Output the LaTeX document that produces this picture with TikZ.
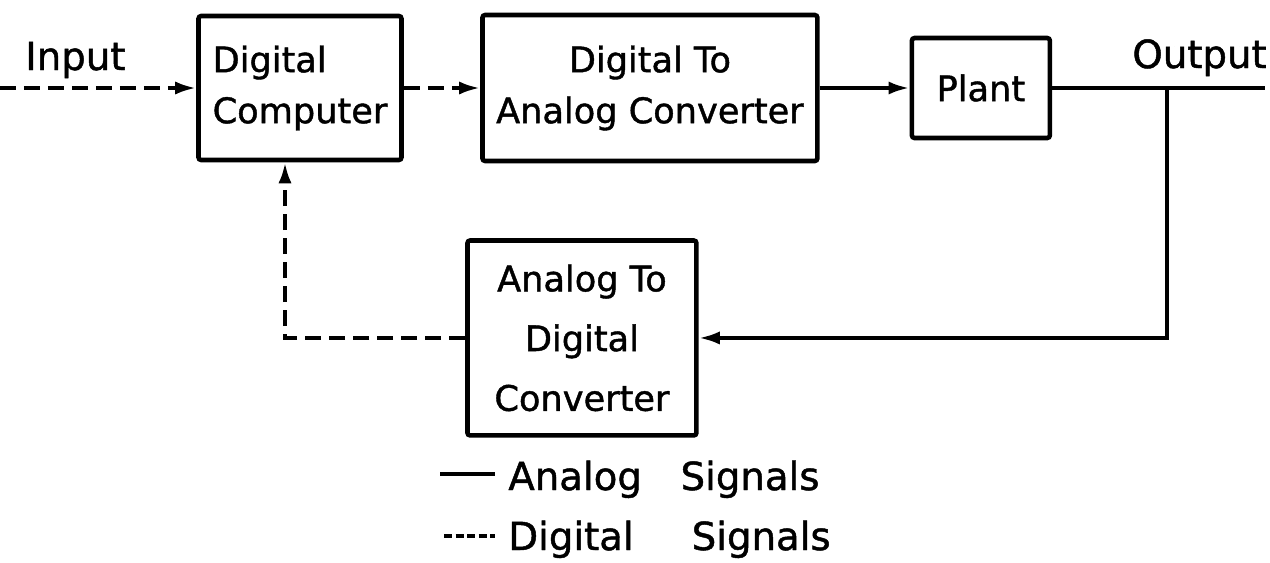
\documentclass[tikz,border=0pt]{standalone}
\usepackage{fontspec}
\setmainfont{DejaVu Sans}[BoldFont=DejaVu Sans,BoldFeatures={FakeBold=1.2}]
\usetikzlibrary{arrows.meta,positioning}

\begin{document}
\begin{tikzpicture}[x=0.02cm,y=-0.02cm,on grid,>={Latex[length=12pt,width=7.5pt]},
    block/.style={draw,line width=2.6pt,rounded corners=1.5pt,inner sep=0pt,
                  font=\fontsize{20}{29}\selectfont\bfseries},
    analog/.style={line width=2.2pt},
    digital/.style={line width=2.2pt,dash pattern=on 0.32cm off 0.16cm},
    keydash/.style={line width=2.2pt,dash pattern=on 0.16cm off 0.07cm},
    lbl/.style={inner sep=0pt,font=\fontsize{22}{26}\selectfont\bfseries}]
   \useasboundingbox (0,0) rectangle (1270,562);

   \node[block,minimum width=4.06cm,minimum height=2.88cm,align=left] (dc) at (300,88) {Digital\\Computer};
   \node[block,minimum width=6.7cm,minimum height=2.92cm,align=center] (dac) [right=7cm of dc] {Digital To\\Analog Converter};
   \node[block,minimum width=2.76cm,minimum height=2cm] (plant) [right=6.62cm of dac] {Plant};
   \node[block,minimum width=4.58cm,minimum height=3.9cm,align=center,
         font=\fontsize{20}{34}\selectfont\bfseries] (adc) [below right=5cm and 5.64cm of dc] {Analog To\\Digital\\Converter};

   \coordinate (in)  at (0,88);
   \coordinate (out) at (1265,88);
   \coordinate (tap) at (1167,88);

   \node[lbl,anchor=base west] (inlbl)  at (25,70)   {Input};
   \node[lbl,anchor=base east] (outlbl) at (1267,68) {Output};

   \path[->]
    (in)  edge[digital] (dc)
    (dc)  edge[digital] (dac)
    (dac) edge[analog]  (plant);
   \draw[analog] (plant) -- (out);
   \draw[analog,->] (tap) |- (adc);
   \draw[digital,->] (adc) -| ([xshift=-0.3cm]dc.south);

   % key
   \node[lbl,anchor=base west,inner xsep=0.26cm] (alegend) at (495,490) {Analog\hspace{1em}Signals};
   \node[lbl,anchor=base west,inner xsep=0.26cm] (dlegend) at (495,550) {Digital\hspace{1.5em}Signals};
   \coordinate (akey) at (440,474);
   \coordinate (dkey) at (444,536);
   \draw[analog]  (akey) -- (akey -| alegend.west);
   \draw[keydash] (dkey) -- (dkey -| dlegend.west);
\end{tikzpicture}
\end{document}
